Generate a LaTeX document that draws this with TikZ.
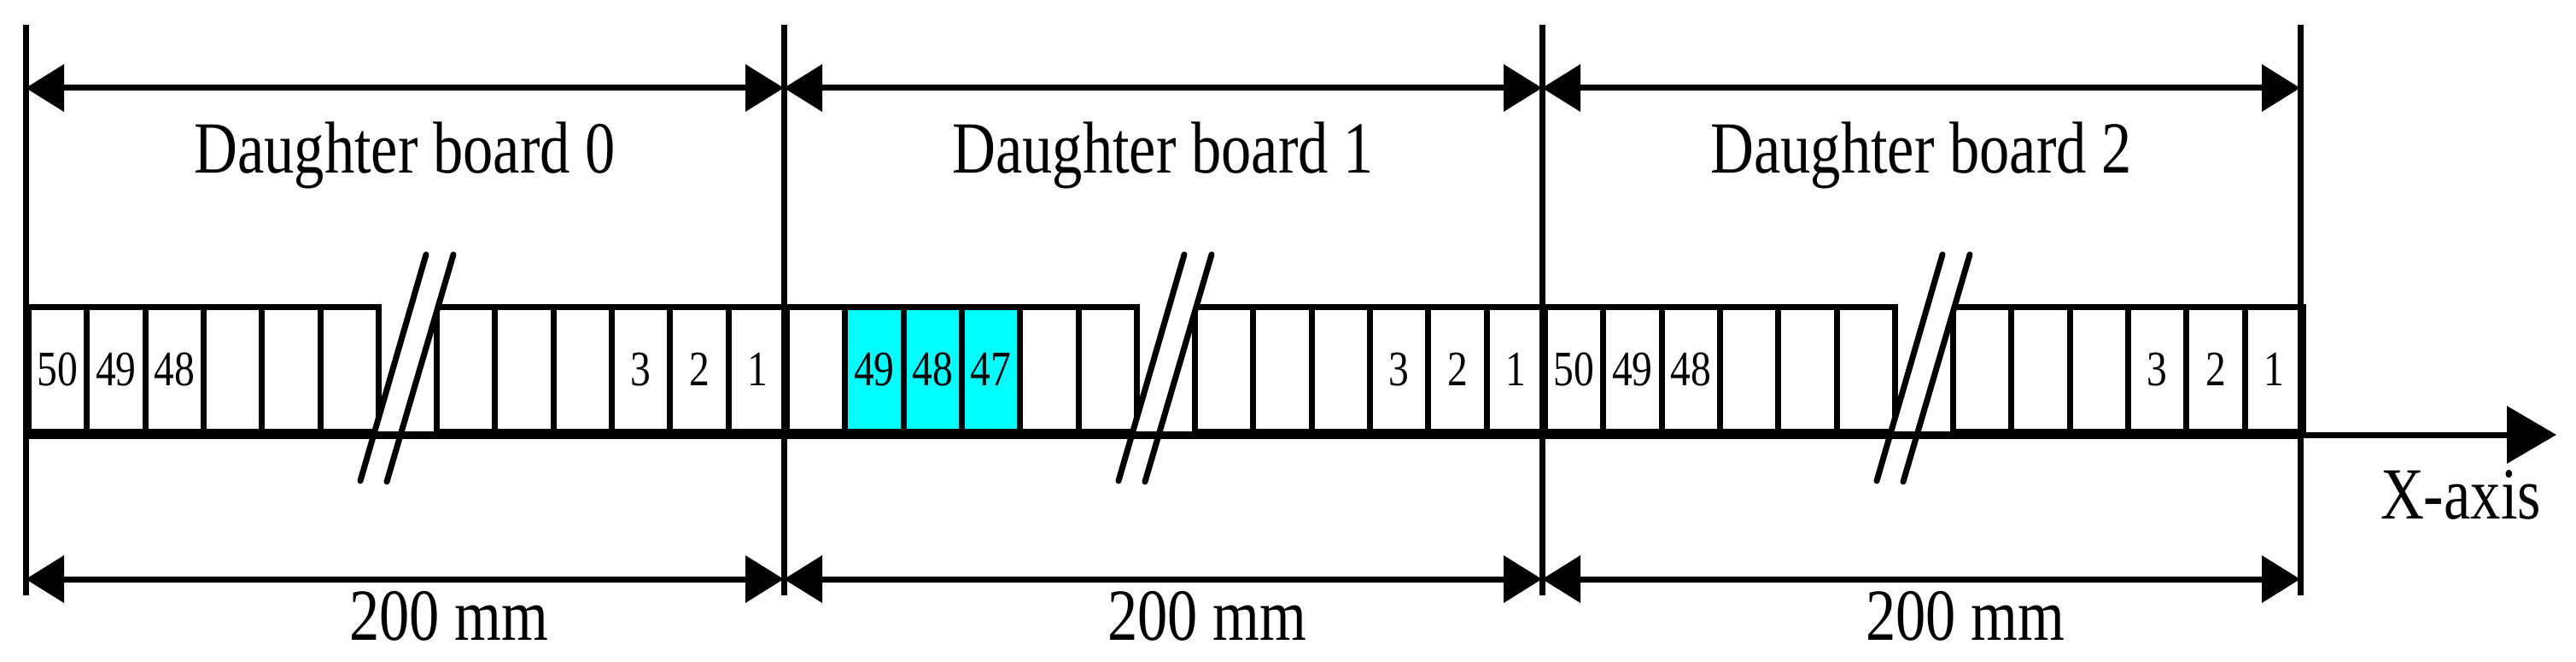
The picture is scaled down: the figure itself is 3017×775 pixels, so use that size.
\documentclass[tikz,border=0pt]{standalone}
\usepackage{fontspec}
\setmainfont{Liberation Serif}[FakeStretch=0.82]
\usetikzlibrary{arrows.meta}
\definecolor{aqua}{RGB}{0,255,255}
\tikzset{
  cell/.style={draw,line width=7pt,inner sep=0pt,minimum width=68.3pt,minimum height=146pt,anchor=south west,font=\fontsize{58}{60}\selectfont},
  dim/.style={line width=7pt,{Triangle[length=45pt,width=54pt]}-{Triangle[length=45pt,width=54pt]}},
  bound/.style={line width=7pt},
  brk/.style={line width=7pt,line cap=round},
  lbl/.style={font=\fontsize{86}{90}\selectfont,inner sep=0pt},
}
\begin{document}
\begin{tikzpicture}[x=1pt,y=-1pt]
\useasboundingbox (0,0) rectangle (3017,775);
\foreach \b in {0,1,2}{
  \pgfmathsetmacro{\xo}{30+888*\b}
  \foreach \k in {0,...,5,7,8,...,12}{
    \node[cell] (c\b-\k) at (\xo+68.3*\k,509) {};
  }
  \fill[white] (\xo+469,298) -- (\xo+501,298) -- (\xo+423,564) -- (\xo+392,563) -- cycle;
  \draw[brk] (\xo+469,298) coordinate (sa\b) -- (\xo+392,563) coordinate (sb\b);
  \draw[brk] (\xo+501,298) coordinate (sc\b) -- (\xo+423,564) coordinate (sd\b);
}
\foreach \b/\k/\t in {0/0/50,0/1/49,0/2/48,2/0/50,2/1/49,2/2/48,0/10/3,0/11/2,0/12/1,1/10/3,1/11/2,1/12/1,2/10/3,2/11/2,2/12/1}{
  \node[font=\fontsize{58}{60}\selectfont,inner sep=0pt] at (c\b-\k.center) {\t};
}
\foreach \k/\t in {1/49,2/48,3/47}{
  \node[cell,fill=aqua] at (c1-\k.south west) {\t};
}
\foreach \i in {0,1,2,3}{
  \coordinate (vt\i) at (30+888*\i,29);
  \coordinate (vb\i) at (30+888*\i,697);
  \coordinate (at\i) at (30+888*\i,103);
  \coordinate (ab\i) at (30+888*\i,678);
  \draw[bound] (vt\i) -- (vb\i);
}
\foreach \i/\j in {0/1,1/2,2/3}{
  \draw[dim] (at\i) -- (at\j);
  \draw[dim] (ab\i) -- (ab\j);
}
\coordinate (axs) at (30,509);
\coordinate (axm) at (2694,509);
\coordinate (axe) at (2994,509);
\draw[line width=9pt] (axs) -- (axm);
\draw[line width=7pt,-{Triangle[length=58pt,width=66pt]}] (axm) -- (axe);
\node[lbl,anchor=base] (xl) at (2882,607) {X-axis};
\foreach \b in {0,1,2}{
  \node[lbl,anchor=base] (d\b) at (474+888*\b,203) {Daughter board \b};
  \node[lbl,anchor=base] (m\b) at (526+888*\b,749) {200 mm};
}
\end{tikzpicture}
\end{document}
